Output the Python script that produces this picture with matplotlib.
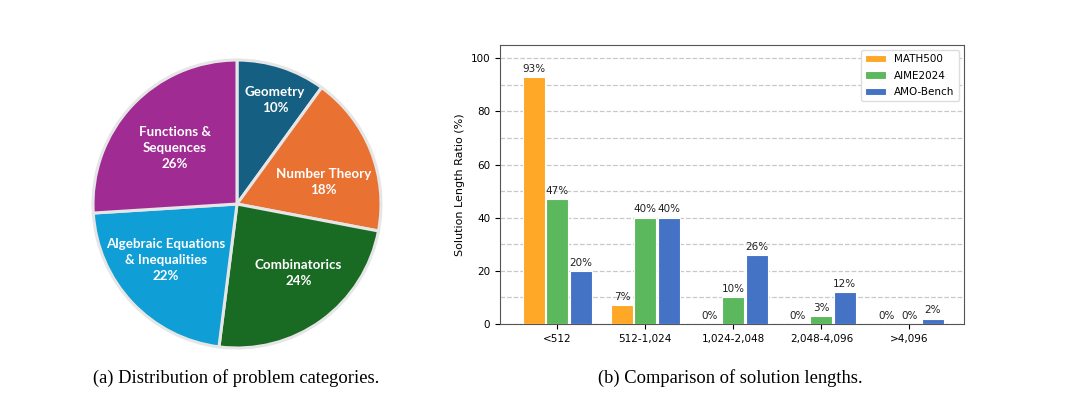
import numpy as np
import matplotlib
matplotlib.use("Agg")
from matplotlib import pyplot as plt

# pie data
pie_labels = ["Geometry", "Number Theory", "Combinatorics",
              "Algebraic Equations\n& Inequalities", "Functions &\nSequences"]
pie_values = [10, 18, 24, 22, 26]
pie_colors = ["#156082", "#E97132", "#196B24", "#0F9ED5", "#A02B93"]

# bar data
bins = ["<512", "512-1,024", "1,024-2,048", "2,048-4,096", ">4,096"]
math500 = [93, 7, 0, 0, 0]
aime2024 = [47, 40, 10, 3, 0]
amobench = [20, 40, 26, 12, 2]
series_names = ["MATH500", "AIME2024", "AMO-Bench"]
bar_colors = ["#FFA726", "#5CB85C", "#4472C4"]

fig = plt.figure(figsize=(10.8, 3.98), dpi=100)

# ---- (a) pie ----
ax1 = fig.add_axes([0.0861, 0.1256, 0.2667, 0.7236])
wedges, _ = ax1.pie(pie_values, colors=pie_colors, startangle=90, counterclock=False,
                    radius=1.0, wedgeprops=dict(edgecolor="#e6e6e6", linewidth=2.2))
for w in wedges:
    w.set_clip_on(False)
# label distance from centre for each wedge
label_r = [0.77, 0.62, 0.64, 0.63, 0.58]
angle_shift = [-2, -7, 6, -5, 1]
for w, lab, v, r, da in zip(wedges, pie_labels, pie_values, label_r, angle_shift):
    ang = np.deg2rad((w.theta1 + w.theta2) / 2 + da)
    ax1.text(r * np.cos(ang), r * np.sin(ang), f"{lab}\n{v}%", ha="center", va="center",
             color="white", fontsize=9.6, fontweight="bold", family="Lato", linespacing=1.4)
ax1.set_xlim(-1, 1)
ax1.set_ylim(-1, 1)
ax1.set_aspect("equal")

# ---- (b) bars ----
ax2 = fig.add_axes([0.463, 0.186, 0.4296, 0.701])
x = np.arange(len(bins))
w = 0.25
step = 0.265
for i, (vals, name, c) in enumerate(zip([math500, aime2024, amobench], series_names, bar_colors)):
    pos = x + (i - 1) * step
    ax2.bar(pos, vals, w, color=c, edgecolor="white", linewidth=0.8, label=name, zorder=3)
    for p, v in zip(pos, vals):
        ax2.text(p, v + 1.2, f"{v}%", ha="center", va="bottom", fontsize=7.5, color="#222222", zorder=4)

ax2.set_xlim(-0.65, 4.62)
ax2.set_ylim(0, 105)
ax2.set_xticks(x)
ax2.set_xticklabels(bins, fontsize=7.5)
ax2.set_yticks(range(0, 101, 20))
ax2.tick_params(axis="y", labelsize=7.5)
ax2.set_yticks(range(10, 101, 10), minor=True)
ax2.grid(axis="y", which="both", linestyle="--", color="#c8c8c8", linewidth=0.9, zorder=0)
ax2.tick_params(which="minor", length=0)
ax2.set_ylabel("Solution Length Ratio (%)", fontsize=8)
for s in ax2.spines.values():
    s.set_color("#555555")
ax2.legend(loc="upper right", fontsize=7.5, framealpha=1, edgecolor="#dddddd", labelspacing=0.6)

# captions
fig.text(236 / 1080, 1 - 378 / 398, "(a) Distribution of problem categories.", ha="center", va="center",
         fontsize=13.3, family="Liberation Serif")
fig.text(730 / 1080, 1 - 378 / 398, "(b) Comparison of solution lengths.", ha="center", va="center",
         fontsize=13.3, family="Liberation Serif")

plt.savefig("out.png", dpi=100)
